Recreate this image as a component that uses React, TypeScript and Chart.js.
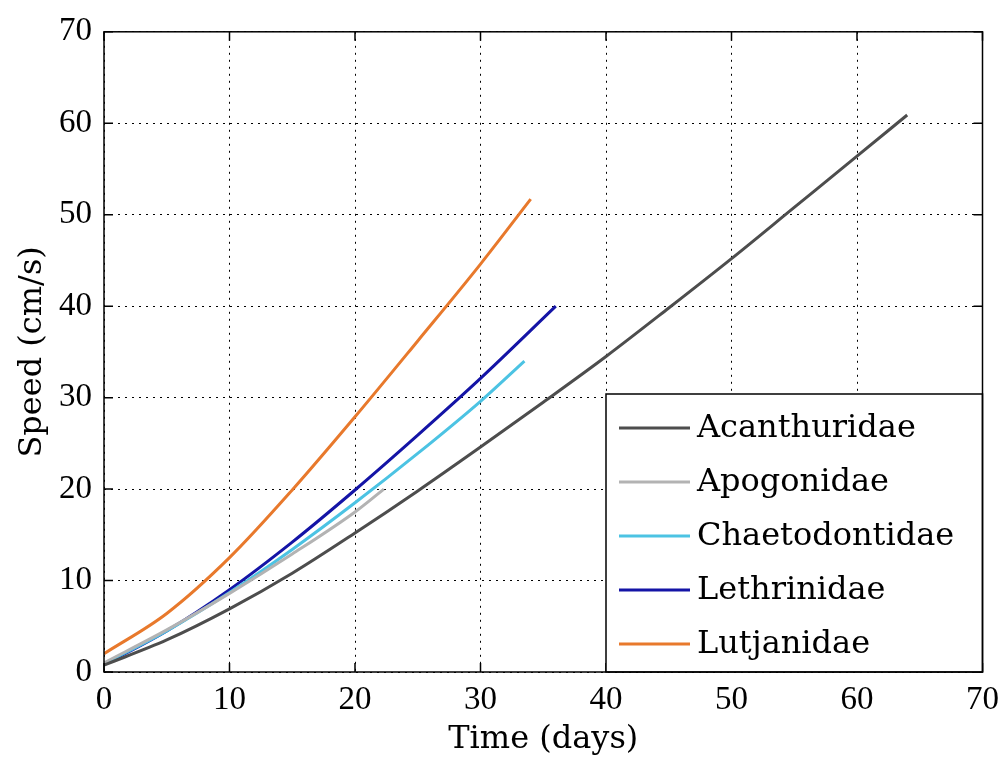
import React, { useEffect, useRef } from "react";
import { Chart, registerables } from "chart.js";

Chart.register(...registerables);

const seriesNames = ["Acanthuridae", "Apogonidae", "Chaetodontidae", "Lethrinidae", "Lutjanidae"];
const seriesColors = ["#4d4d4d", "#b3b3b3", "#4cc3e3", "#1414a6", "#e8792c"];

const acanthuridaeX = [0, 5, 10, 15, 20, 25, 30, 35, 40, 45, 50, 55, 60, 64];
const acanthuridaeY = [0.75, 3.5, 6.9, 10.8, 15.2, 19.8, 24.6, 29.5, 34.5, 39.8, 45.2, 50.8, 56.4, 60.9];

const apogonidaeX = [0, 5, 10, 15, 20, 22.3];
const apogonidaeY = [1.0, 4.6, 8.6, 12.9, 17.5, 20.0];

const chaetodontidaeX = [0, 5, 10, 15, 20, 25, 30, 33.5];
const chaetodontidaeY = [0.9, 4.5, 8.7, 13.4, 18.5, 23.9, 29.6, 34.0];

const lethrinidaeX = [0, 5, 10, 15, 20, 25, 30, 36];
const lethrinidaeY = [0.8, 4.5, 9.0, 14.2, 19.9, 25.9, 32.1, 40.0];

const lutjanidaeX = [0, 5, 10, 15, 20, 25, 30, 34];
const lutjanidaeY = [2.0, 6.4, 12.5, 19.9, 27.9, 36.2, 44.6, 51.7];

const allX = [acanthuridaeX, apogonidaeX, chaetodontidaeX, lethrinidaeX, lutjanidaeX];
const allY = [acanthuridaeY, apogonidaeY, chaetodontidaeY, lethrinidaeY, lutjanidaeY];

const axisMin = 0;
const axisMax = 70;
const tickStep = 10;

const xTitle = "Time (days)";
const yTitle = "Speed (cm/s)";

const TICK_FONT = "'Liberation Serif', serif";
const TEXT_FONT = "'DejaVu Serif', serif";

const framePlugin = {
  id: "frameAndLegend",
  afterDraw(chart: any) {
    const { ctx, chartArea } = chart;
    const { left, right, top, bottom } = chartArea;
    ctx.save();
    ctx.strokeStyle = "#000";
    ctx.lineWidth = 1.5;
    const xs = chart.scales.x;
    const ys = chart.scales.y;
    const tl = 9;
    ctx.beginPath();
    for (let v = axisMin; v <= axisMax; v += tickStep) {
      const px = xs.getPixelForValue(v);
      ctx.moveTo(px, bottom);
      ctx.lineTo(px, bottom - tl);
      ctx.moveTo(px, top);
      ctx.lineTo(px, top + tl);
      const py = ys.getPixelForValue(v);
      ctx.moveTo(left, py);
      ctx.lineTo(left + tl, py);
      ctx.moveTo(right, py);
      ctx.lineTo(right - tl, py);
    }
    ctx.stroke();

    const boxL = 606;
    const boxT = 394;
    const boxR = right;
    const boxB = bottom;
    ctx.fillStyle = "#fff";
    ctx.fillRect(boxL, boxT, boxR - boxL, boxB - boxT);
    ctx.lineWidth = 1.5;
    ctx.strokeRect(boxL, boxT, boxR - boxL, boxB - boxT);
    ctx.font = `32px ${TEXT_FONT}`;
    ctx.textBaseline = "middle";
    ctx.textAlign = "left";
    seriesNames.forEach((name, i) => {
      const cy = 428 + i * 54;
      ctx.strokeStyle = seriesColors[i];
      ctx.lineWidth = 3;
      ctx.beginPath();
      ctx.moveTo(619, cy);
      ctx.lineTo(690, cy);
      ctx.stroke();
      ctx.fillStyle = "#000";
      ctx.fillText(name, 697, cy + 1);
    });

    ctx.strokeStyle = "#000";
    ctx.lineWidth = 1.5;
    ctx.strokeRect(left, top, right - left, bottom - top);
    ctx.restore();
  },
};

export default function App() {
  const canvasRef = useRef<HTMLCanvasElement | null>(null);

  useEffect(() => {
    const canvas = canvasRef.current;
    if (!canvas) return;
    const datasets = seriesNames.map((name, i) => ({
      label: name,
      data: allX[i].map((x, j) => ({ x, y: allY[i][j] })),
      borderColor: seriesColors[i],
      backgroundColor: seriesColors[i],
      borderWidth: 3,
      pointRadius: 0,
      fill: false,
      cubicInterpolationMode: "monotone" as const,
    }));

    const chart = new Chart(canvas, {
      type: "line",
      data: { datasets },
      plugins: [framePlugin],
      options: {
        responsive: false,
        animation: false,
        layout: { padding: { left: 0, right: 25, top: 21, bottom: 0 } },
        plugins: {
          legend: { display: false },
          tooltip: { enabled: false },
        },
        scales: {
          x: {
            type: "linear",
            min: axisMin,
            max: axisMax,
            afterFit(scale: any) {
              scale.height = 93;
            },
            ticks: {
              stepSize: tickStep,
              padding: 9,
              color: "#000",
              font: { family: TICK_FONT, size: 33 },
              maxRotation: 0,
            },
            grid: { color: "#000", lineWidth: 1, drawTicks: false },
            border: { display: false, dash: [2, 5] },
            title: {
              display: true,
              text: xTitle,
              color: "#000",
              font: { family: TEXT_FONT, size: 32 },
              padding: { top: 0, bottom: 6 },
            },
          },
          y: {
            type: "linear",
            min: axisMin,
            max: axisMax,
            afterFit(scale: any) {
              scale.width = 104;
            },
            ticks: {
              stepSize: tickStep,
              padding: 12,
              color: "#000",
              font: { family: TICK_FONT, size: 33 },
            },
            grid: { color: "#000", lineWidth: 1, drawTicks: false },
            border: { display: false, dash: [2, 5] },
            title: {
              display: true,
              text: yTitle,
              color: "#000",
              font: { family: TEXT_FONT, size: 32 },
              padding: { top: 13, bottom: 0 },
            },
          },
        },
      },
    });
    return () => chart.destroy();
  }, []);

  return (
    <div style={{ position: "absolute", left: 0, top: 0, width: 1008, height: 765, background: "#fff" }}>
      <canvas ref={canvasRef} width={1008} height={765} />
    </div>
  );
}
